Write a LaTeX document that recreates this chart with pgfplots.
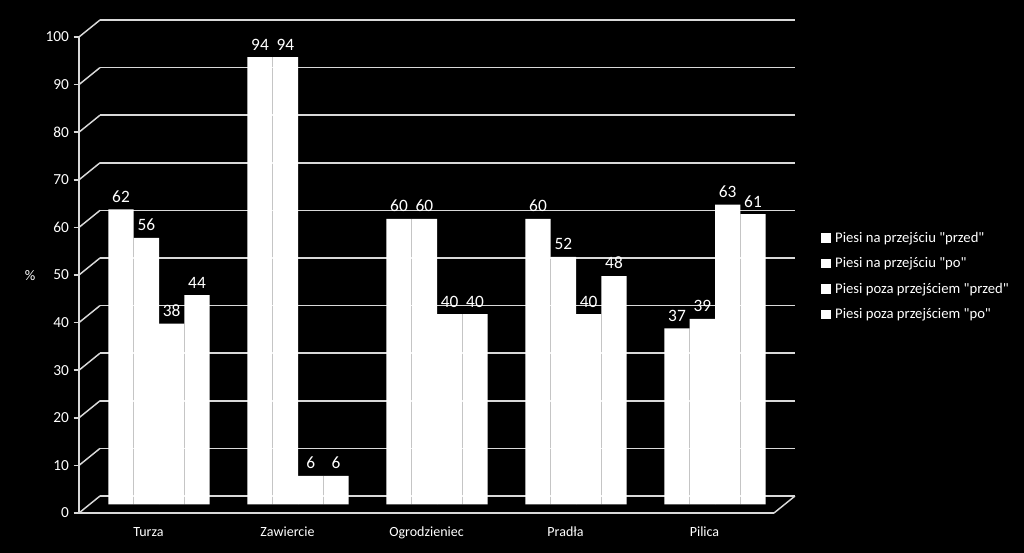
\documentclass[border=0pt]{standalone}
\usepackage{pgfplots}
\pgfplotsset{compat=1.18}
\usepackage{fontspec}
\setmainfont{Carlito}[Ligatures=TeXOff]
\definecolor{gridc}{HTML}{D9D9D9}
\pgfplotstableread{
x a b c d
0 62 56 38 44
1 94 94 6 6
2 60 60 40 40
3 60 52 40 48
4 37 39 63 61
}\data
\begin{document}
\begin{tikzpicture}
\useasboundingbox (0,0) rectangle (768pt,414.75pt);
\fill[black] (0,0) rectangle (768pt,414.75pt);
% back wall grid
\begin{axis}[at={(75pt,42.75pt)},anchor=south west,scale only axis,
  width=521.25pt,height=357pt,xmin=-0.5,xmax=4.5,ymin=0,ymax=100,
  axis line style={draw=none},xtick=\empty,ytick={0,10,...,100},yticklabels={},
  major tick length=0pt,ymajorgrids,grid style={gridc,line width=1.1pt}]
\addplot[draw=none] coordinates {(0,0)};
\end{axis}
\begin{scope}[x=0.75pt,y=-0.75pt,yshift=414.75pt]
\foreach \k in {0,...,10} \draw[gridc,line width=1.1pt] (79,{513-47.6*\k}) -- (100,{496-47.6*\k});
\draw[gridc,line width=1.1pt] (774,513) -- (795,496);
\node[text=white,font=\fontsize{11}{13}\selectfont] at (30,276) {\%};
\end{scope}
% bars
\begin{axis}[at={(67.125pt,36.375pt)},anchor=south west,scale only axis,
  width=521.25pt,height=357pt,xmin=-0.5,xmax=4.5,ymin=0,ymax=100,
  hide axis,ybar=0pt,bar width=19pt,
  nodes near coords,
  /pgf/number format/assume math mode=true,
  every node near coord/.append style={text=white,font=\fontsize{13}{15}\selectfont,inner sep=2pt,yshift=3pt},
  legend cell align=left,
  legend style={at={(1.052,0.584)},anchor=north west,draw=none,fill=none,text=white,
    font=\fontsize{11}{13}\selectfont,row sep=6pt,inner xsep=0pt,
    nodes={inner xsep=3.5pt}},
  legend image code/.code={\fill[white] (0pt,-3.6pt) rectangle (7.2pt,3.6pt);}]
\addplot[fill=white,draw=none] table[x=x,y=a] {\data};
\addplot[fill=white,draw=none] table[x=x,y=b] {\data};
\addplot[fill=white,draw=none] table[x=x,y=c] {\data};
\addplot[fill=white,draw=none] table[x=x,y=d] {\data};
\legend{Piesi na przejściu "przed",Piesi na przejściu "po",Piesi poza przejściem "przed",Piesi poza przejściem "po"}
\end{axis}
% front axis
\begin{axis}[at={(59.25pt,30pt)},anchor=south west,scale only axis,
  width=521.25pt,height=357pt,xmin=-0.5,xmax=4.5,ymin=0,ymax=100,
  axis x line*=bottom,axis y line*=left,
  axis line style={gridc,line width=1.1pt,-},
  xtick={0,...,4},xticklabels={Turza,Zawiercie,Ogrodzieniec,Pradła,Pilica},
  xtick style={draw=none},
  ytick={0,10,...,100},ytick style={gridc,line width=1.1pt},
  tick align=outside,major tick length=4pt,
  yticklabel style={text=white,font=\fontsize{11.5}{13}\selectfont},
  xticklabel style={text=white,font=\fontsize{10.5}{12}\selectfont,yshift=-3pt},
  /pgf/number format/assume math mode=true]
\addplot[draw=none] coordinates {(0,0)};
\end{axis}
\end{tikzpicture}
\end{document}
